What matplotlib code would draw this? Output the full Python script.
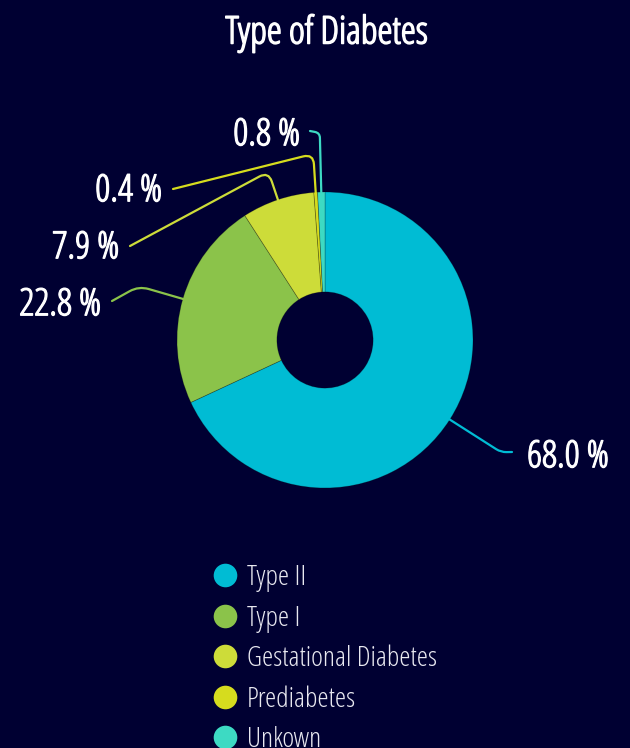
import numpy as np
import matplotlib
matplotlib.use("Agg")
import matplotlib.pyplot as plt
import matplotlib.patheffects as pe
from matplotlib.path import Path
from matplotlib.patches import PathPatch
from matplotlib.lines import Line2D
from matplotlib import font_manager
from matplotlib.font_manager import FontProperties

categories = ["Type II", "Type I", "Gestational Diabetes", "Prediabetes", "Unkown"]
values = [68.0, 22.8, 7.9, 0.4, 0.8]
colors = ["#00bcd4", "#8bc34a", "#cddc39", "#d6dc1e", "#3ddac3"]

BG = "#000032"
W, H = 630, 748
CX, CY, R = 325, 340, 148   # pie centre / radius in pixels

WEIGHTS = {"ultralight": 200, "light": 300, "normal": 400, "regular": 400, "book": 400,
           "medium": 500, "semibold": 600, "demibold": 600, "bold": 700,
           "heavy": 800, "extra bold": 800, "black": 900}
fonts = font_manager.fontManager.ttflist


def wt(f):
    return f.weight if isinstance(f.weight, int) else WEIGHTS.get(f.weight, 400)


# first family that has condensed faces
narrow = []
for name in ["Liberation Sans Narrow", "Roboto", "Open Sans", "Noto Sans", "DejaVu Sans", "Inter"]:
    narrow = [f for f in fonts if f.name == name and f.style == "normal" and
              (f.stretch == "condensed" or f.stretch == 300 or "Narrow" in f.name)]
    if narrow:
        break


def face(weight, size):
    if not narrow:
        return FontProperties(family="DejaVu Sans", size=size * 0.8)
    best = min(narrow, key=lambda f: (abs(wt(f) - weight), wt(f)))
    return FontProperties(fname=best.fname, size=size)


def px(x, y):
    # pixel position -> data units (radius 1 == R pixels)
    return (x - CX) / R, (CY - y) / R


fig = plt.figure(figsize=(W / 100, H / 100), dpi=100, facecolor=BG)
ax = fig.add_axes([0, 0, 1, 1])
ax.set_facecolor(BG)

wedges, _ = ax.pie(values, colors=colors, startangle=90, counterclock=False,
                   radius=1.0, center=(0, 0), frame=True,
                   wedgeprops=dict(width=0.675, edgecolor="#00000040", linewidth=0.6))
ax.set_xlim(-CX / R, (W - CX) / R)
ax.set_ylim(-(H - CY) / R, CY / R)
ax.set_aspect("equal")
ax.axis("off")

# label layout: elbow radius, end of leader, label anchor, alignment
layout = [
    (1.41, px(512, 452), px(527, 457), "left"),
    (1.31, px(112, 301), px(101, 305), "right"),
    (1.20, px(130, 246), px(119, 248), "right"),
    (1.26, px(173, 189), px(162, 191), "right"),
    (1.40, px(310, 131), px(300, 135), "right"),
]

# thicken the light face a little
bolder = [pe.withStroke(linewidth=0.9, foreground="white")]

label_font = face(300, 27)
for w, v, c, (re, end, lab, ha) in zip(wedges, values, colors, layout):
    ang = np.deg2rad((w.theta1 + w.theta2) / 2)
    d = np.array([np.cos(ang), np.sin(ang)])
    p0 = d * 0.99
    e = d * re
    end = np.array(end)
    u = (end - e) / np.linalg.norm(end - e)
    k = min(0.07, np.linalg.norm(end - e) * 0.5)
    verts = [p0, e - d * k, e, e + u * k, end]
    codes = [Path.MOVETO, Path.LINETO, Path.CURVE3, Path.CURVE3, Path.LINETO]
    ax.add_patch(PathPatch(Path(verts, codes), fill=False, edgecolor=c, lw=1.6,
                           capstyle="round", joinstyle="round"))
    ax.text(lab[0], lab[1], f"{v:.1f} %", ha=ha, va="center",
            color="white", fontproperties=label_font, path_effects=bolder)

fig.text(327 / W, 1 - 33 / H, "Type of Diabetes", ha="center", va="center",
         color="white", fontproperties=face(300, 27.5),
         path_effects=[pe.withStroke(linewidth=1.1, foreground="white")])

handles = [Line2D([], [], marker="o", linestyle="none", markersize=17,
                  markerfacecolor=c, markeredgecolor="none") for c in colors]
leg = fig.legend(handles, categories, loc="upper left",
                 bbox_to_anchor=(211 / W, 1 - 564 / H), frameon=False,
                 handlelength=1.0, handletextpad=0.25, labelspacing=0.44,
                 borderpad=0, borderaxespad=0, prop=face(300, 20.5))
for t in leg.get_texts():
    t.set_color("#e8e8f0")

fig.savefig("out.png", dpi=100, facecolor=BG)
